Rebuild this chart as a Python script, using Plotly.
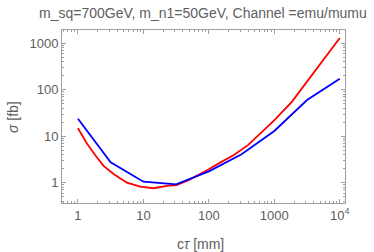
import plotly.graph_objects as go

red_x = [1, 1.37, 1.84, 2.46, 3.5, 5.6, 8.9, 14.3, 23, 32, 50, 74, 100, 148, 238, 400, 605, 1030, 1850, 3150, 5600, 10000]
red_y = [14.8, 7.0, 3.9, 2.3, 1.54, 1.0, 0.82, 0.76, 0.85, 0.89, 1.15, 1.54, 1.95, 2.7, 3.9, 6.5, 11.5, 23, 55, 148, 450, 1300]

blue_x = [1, 3.16, 10, 31.6, 100, 316, 1000, 3162, 10000]
blue_y = [23.8, 2.75, 1.05, 0.92, 1.75, 4.1, 13, 60, 172]

x_ticks = [1, 10, 100, 1000, 10000]
x_ticktext = ["1", "10", "100", "1000", "10<sup>4</sup>"]
y_ticks = [1, 10, 100, 1000]
y_ticktext = ["1", "10", "100", "1000"]

title = "m_sq=700GeV, m_n1=50GeV, Channel =emu/mumu"
x_title = "c<i>τ</i> [mm]"
y_title = "<i>σ</i> [fb]"

gray = "#606060"
frame = "#a0a0a0"
font = "Liberation Sans"

fig = go.Figure()
fig.add_trace(go.Scatter(x=red_x, y=red_y, mode="lines", line=dict(color="#ff0000", width=1.8)))
fig.add_trace(go.Scatter(x=blue_x, y=blue_y, mode="lines", line=dict(color="#0000ff", width=1.8)))

axis_common = dict(
    showgrid=False, zeroline=False, showline=True, linecolor=frame, linewidth=1,
    mirror="allticks", ticks="inside", ticklen=4, tickcolor=frame, tickwidth=1,
    automargin=False,
    tickfont=dict(family=font, size=13, color=gray),
    minor=dict(ticks="inside", ticklen=2, tickcolor=frame, dtick="D1", showgrid=False),
)

fig.update_xaxes(type="log", range=[-0.244, 4.08], tickvals=x_ticks, ticktext=x_ticktext, **axis_common)
fig.update_yaxes(type="log", range=[-0.437, 3.286], tickvals=y_ticks, ticktext=y_ticktext, **axis_common)

# plot area: x 62..345, y 30..203 (pixels)
fig.add_annotation(text=x_title, xref="paper", yref="paper", x=0.49, y=-0.237,
                   xanchor="center", yanchor="middle", showarrow=False,
                   font=dict(family=font, size=14, color=gray))
fig.add_annotation(text=y_title, xref="paper", yref="paper", x=-0.173, y=0.497,
                   xanchor="center", yanchor="middle", showarrow=False, textangle=-90,
                   font=dict(family=font, size=14, color=gray))
fig.add_annotation(text=title, xref="paper", yref="paper", x=0.497, y=1.098,
                   xanchor="center", yanchor="middle", showarrow=False,
                   font=dict(family=font, size=14, color=gray))

fig.update_layout(
    width=374, height=252,
    margin=dict(l=62, r=29, t=30, b=49),
    paper_bgcolor="white", plot_bgcolor="white",
    showlegend=False,
)

fig.write_html("out.html", config={"displayModeBar": False},
               post_script="document.body.style.margin='0';")
